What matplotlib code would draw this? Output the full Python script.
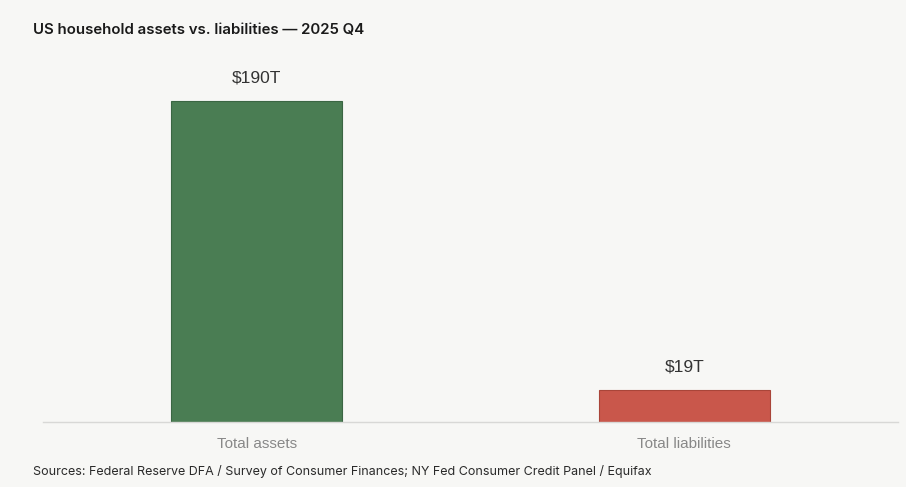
import matplotlib.pyplot as plt

categories = ['Total assets', 'Total liabilities']
values = [190, 19]
labels = ['$190T', '$19T']
colors = ['#4a7d53', '#c9574b']
edges = ['#3b6643', '#a94539']

bg = '#f7f7f5'

fig = plt.figure(figsize=(9.06, 4.87), dpi=100, facecolor=bg)
ax = fig.add_axes([43 / 906, 1 - 422 / 487, 855 / 906, 372 / 487], facecolor=bg)

x = range(len(categories))
bars = ax.bar(x, values, width=0.4, color=colors, edgecolor=edges, linewidth=0.8, zorder=2)

# etiquetas de valor encima de cada barra
for b, lab in zip(bars, labels):
    ax.annotate(lab, (b.get_x() + b.get_width() / 2, b.get_height()),
                xytext=(0, 11), textcoords='offset points', ha='center', va='bottom',
                fontsize=12.5, color='#333333', family='Liberation Sans')

ax.set_xlim(-0.5, 1.5)
ax.set_ylim(0, 220)
ax.set_xticks(list(x))
ax.set_xticklabels(categories, fontsize=11, color='#888888', family='Liberation Sans')
ax.tick_params(axis='x', length=0, pad=11)
ax.set_yticks([])
for s in ['top', 'right', 'left']:
    ax.spines[s].set_visible(False)
ax.spines['bottom'].set_color('#d8d8d6')
ax.spines['bottom'].set_linewidth(1)

fig.text(33 / 906, 1 - 30 / 487, 'US household assets vs. liabilities \u2014 2025 Q4',
         fontsize=10.8, fontweight='semibold', family='Inter', color='#1a1a1a', va='center')
fig.text(33 / 906, 1 - 472 / 487,
         'Sources: Federal Reserve DFA / Survey of Consumer Finances; NY Fed Consumer Credit Panel / Equifax',
         fontsize=9, family='Inter', color='#2a2a2a', va='center')

fig.savefig('out.png', dpi=100, facecolor=bg)
